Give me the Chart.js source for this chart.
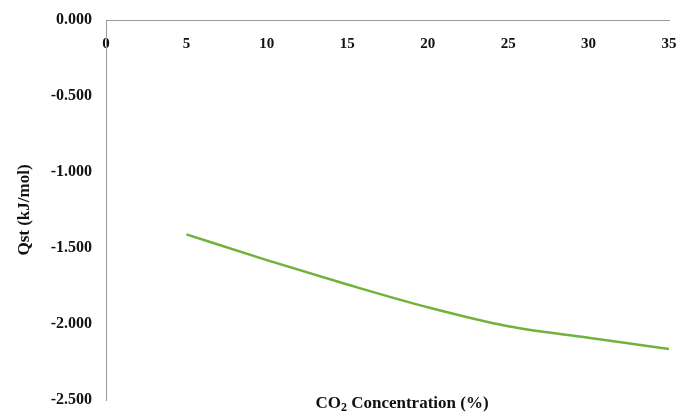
<!DOCTYPE html>
<html>
<head>
<meta charset="utf-8">
<script src="https://cdn.jsdelivr.net/npm/chart.js@4/dist/chart.umd.min.js"></script>
<style>
  body { margin: 0; background: #fff; }
</style>
</head>
<body>
<canvas id="qstChart" width="683" height="412"></canvas>
<script>
// datos
const concentration = [5, 10, 15, 20, 25, 30, 35];
const qst = [-1.41, -1.58, -1.74, -1.89, -2.015, -2.09, -2.165];
const xTicks = [0, 5, 10, 15, 20, 25, 30, 35];
const yTicks = [0, -0.5, -1, -1.5, -2, -2.5];

const serif = '"Liberation Serif", "Times New Roman", serif';

// titulo del eje x dibujado abajo (con el 2 en subindice)
const xTitlePlugin = {
  id: 'xTitle',
  afterDraw(chart) {
    const ctx = chart.ctx;
    const big = 'bold 17px ' + serif;
    const small = 'bold 12px ' + serif;
    ctx.save();
    ctx.fillStyle = '#111';
    ctx.textBaseline = 'alphabetic';
    ctx.font = big;
    const w1 = ctx.measureText('CO').width;
    const w3 = ctx.measureText(' Concentration (%)').width;
    ctx.font = small;
    const w2 = ctx.measureText('2').width;
    let x = 402 - (w1 + w2 + w3) / 2;
    const y = 408;
    ctx.font = big;
    ctx.fillText('CO', x, y);
    x += w1;
    ctx.font = small;
    ctx.fillText('2', x, y + 3);
    x += w2;
    ctx.font = big;
    ctx.fillText(' Concentration (%)', x, y);
    ctx.restore();
  }
};

const ctx = document.getElementById('qstChart').getContext('2d');
new Chart(ctx, {
  type: 'line',
  data: {
    datasets: [{
      data: concentration.map((c, i) => ({ x: c, y: qst[i] })),
      borderColor: '#72b23a',
      borderWidth: 2.5,
      pointRadius: 0,
      cubicInterpolationMode: 'monotone',
      fill: false
    }]
  },
  options: {
    responsive: false,
    animation: false,
    layout: { padding: { top: 20, right: 14, bottom: 12, left: 0 } },
    plugins: {
      legend: { display: false },
      tooltip: { enabled: false }
    },
    scales: {
      x: {
        type: 'linear',
        position: { y: 0 },
        min: 0,
        max: 35,
        afterBuildTicks: s => { s.ticks = xTicks.map(v => ({ value: v })); },
        afterFit: s => { s.height = 0; s.paddingLeft = 0; s.paddingRight = 0; },
        grid: { display: false, drawTicks: false },
        border: { color: '#9a9a9a', width: 1 },
        ticks: {
          padding: 15,
          color: '#111',
          font: { family: serif, size: 15, weight: 'bold' }
        }
      },
      y: {
        min: -2.5,
        max: 0,
        afterBuildTicks: s => { s.ticks = yTicks.map(v => ({ value: v })); },
        afterFit: s => { s.width = 106; s.paddingTop = 0; s.paddingBottom = 0; },
        grid: { display: false, drawTicks: false },
        border: { color: '#9a9a9a', width: 1 },
        ticks: {
          padding: 14,
          color: '#111',
          font: { family: serif, size: 16, weight: 'bold' },
          callback: v => v.toFixed(3)
        },
        title: {
          display: true,
          text: 'Qst (kJ/mol)',
          color: '#111',
          padding: { top: 14, bottom: 0 },
          font: { family: serif, size: 17, weight: 'bold' }
        }
      }
    }
  },
  plugins: [xTitlePlugin]
});
</script>
</body>
</html>
